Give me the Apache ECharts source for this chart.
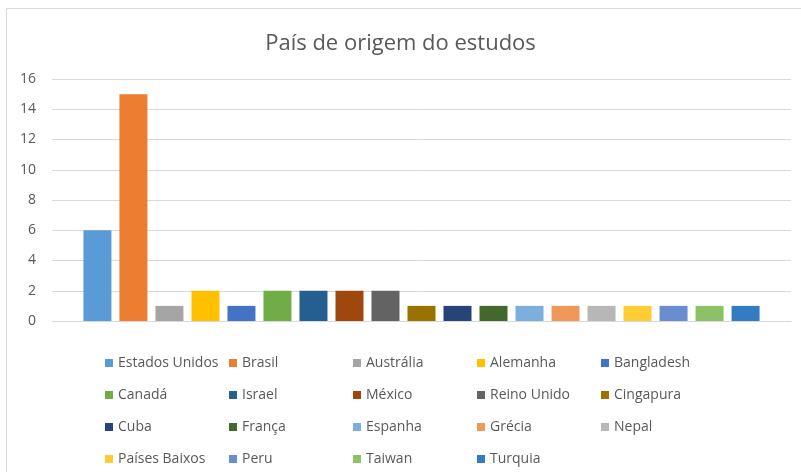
<!DOCTYPE html>
<html>
<head>
<meta charset="utf-8">
<script src="https://cdn.jsdelivr.net/npm/echarts@6/dist/echarts.min.js"></script>
<style>
  html, body { margin: 0; padding: 0; background: #fff; }
  #main { width: 801px; height: 472px; }
</style>
</head>
<body>
<div id="main"></div>
<script>
// dados do gráfico
var paises = ['Estados Unidos', 'Brasil', 'Austrália', 'Alemanha', 'Bangladesh',
              'Canadá', 'Israel', 'México', 'Reino Unido', 'Cingapura',
              'Cuba', 'França', 'Espanha', 'Grécia', 'Nepal',
              'Países Baixos', 'Peru', 'Taiwan', 'Turquia'];
var estudos = [6, 15, 1, 2, 1, 2, 2, 2, 2, 1, 1, 1, 1, 1, 1, 1, 1, 1, 1];
var categoria = ['Total'];
var yTicks = [0, 2, 4, 6, 8, 10, 12, 14, 16];

var cores = ['#5B9BD5', '#ED7D31', '#A5A5A5', '#FFC000', '#4472C4',
             '#70AD47', '#255E91', '#9E480E', '#636363', '#997300',
             '#264478', '#43682B', '#7CAFDD', '#F1975A', '#B7B7B7',
             '#FFCD33', '#698ED0', '#8CC168', '#327DC2'];

var fonte = '"Open Sans", "Noto Sans", sans-serif';

var series = paises.map(function (nome, i) {
    return {
        name: nome,
        type: 'bar',
        barWidth: 28,
        barGap: '28.6%',
        itemStyle: { color: cores[i] },
        data: [estudos[i]]
    };
});

var option = {
    animation: false,
    color: cores,
    title: {
        text: 'País de origem do estudos',
        left: 'center',
        top: 28,
        textStyle: {
            fontFamily: fonte,
            fontSize: 22,
            fontWeight: 'normal',
            color: '#595959'
        }
    },
    graphic: [{
        type: 'rect',
        shape: { x: 6.5, y: 8.5, width: 900, height: 600 },
        style: { fill: null, stroke: '#D9D9D9', lineWidth: 1 },
        silent: true,
        z: -1
    }],
    legend: {
        left: 100,
        top: 342,
        width: 650,
        itemWidth: 8,
        itemHeight: 8,
        itemGap: 0,
        icon: 'rect',
        formatter: function (name) { return '{t|' + name + '}'; },
        textStyle: {
            fontFamily: fonte,
            fontSize: 14,
            color: '#595959',
            rich: {
                t: {
                    fontFamily: fonte,
                    fontSize: 14,
                    color: '#595959',
                    width: 111,
                    height: 32,
                    lineHeight: 32,
                    padding: [0, 0, 0, 0]
                }
            }
        },
        data: paises
    },
    grid: {
        left: 52,
        top: 79,
        width: 739,
        height: 242
    },
    xAxis: {
        type: 'category',
        data: categoria,
        axisLine: { lineStyle: { color: '#D9D9D9', width: 1 } },
        axisTick: { show: false },
        axisLabel: { show: false }
    },
    yAxis: {
        type: 'value',
        min: yTicks[0],
        max: yTicks[yTicks.length - 1],
        interval: 2,
        axisLine: { show: false },
        axisTick: { show: false },
        axisLabel: {
            fontFamily: fonte,
            fontSize: 14,
            color: '#595959',
            margin: 16
        },
        splitLine: { lineStyle: { color: '#D9D9D9', width: 1 } }
    },
    series: series
};

echarts.init(document.getElementById('main')).setOption(option);
</script>
</body>
</html>
